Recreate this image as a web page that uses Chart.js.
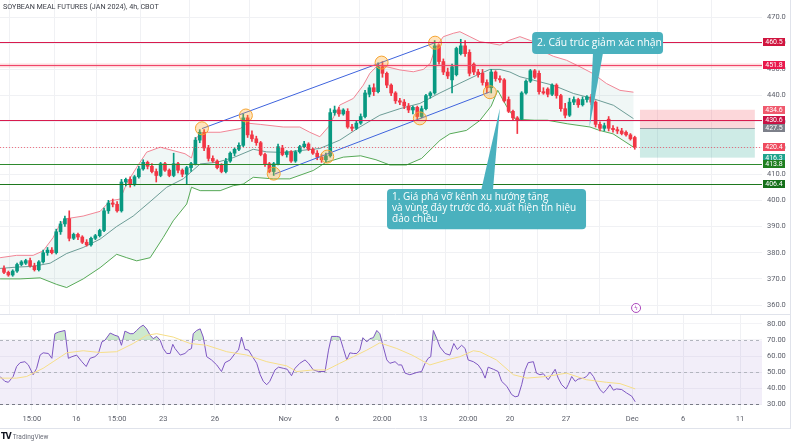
<!DOCTYPE html>
<html><head><meta charset="utf-8">
<script src="https://cdn.jsdelivr.net/npm/chart.js@4.4.1/dist/chart.umd.min.js"></script>
<style>
html,body{margin:0;padding:0;background:#fff;width:791px;height:448px;overflow:hidden}
#wrap{position:relative;width:791px;height:448px}
#c1{position:absolute;left:0;top:0}
#c2{position:absolute;left:0;top:315px}
#title{position:absolute;left:3px;top:2px;font:7.2px Roboto,sans-serif;color:#3a3d46;white-space:nowrap}
#logo{position:absolute;left:1px;top:432px;font:6.5px Roboto,sans-serif;color:#6a6d78;white-space:nowrap}
#logo b{font:bold 8px "DejaVu Sans",sans-serif;color:#131722;letter-spacing:-1px;margin-right:2px}
</style></head>
<body><div id="wrap">
<canvas id="c1" width="791" height="315"></canvas>
<canvas id="c2" width="791" height="133"></canvas>
<div id="title">SOYBEAN MEAL FUTURES (JAN 2024), 4h, CBOT</div>
<div id="logo"><b>TV</b>TradingView</div>
</div>
<script>
// ---------- DATA ----------
const open  = [374,372.5,371.5,373,375.5,376,377,375,373.5,376.5,380,381,380,388,391,393,385.5,387,386,384,383,385.5,386.5,388.5,396,399,398.5,396,407,408,406,409,412,414.5,413,411,409.5,414,411.5,409.5,414,411.5,410,412.5,414,423,426,420,416,415,413.5,411,415,418,419.5,421,431.5,425,423.5,422,417.5,414,411,414,420,417.5,418.5,415,418.5,420.5,421.5,419.5,418,416.5,415.5,417,433.5,434.5,433,434,428,427.5,429.5,432,440.5,443,441.5,451,448.5,444,441,438,437.5,436,434.5,435.5,432,435,440,441,459,453,449,446,448,456,459,456.5,452,449,448.5,445,443,449,446.5,446,438.5,434,431.5,431,441,445.5,449.5,448.5,441.5,442.5,440.5,444,440,435,432.5,437.5,438.5,436.5,438.5,439.5,437.5,429,427.5,431,427.5,427,426.5,426,425,424];
const high  = [375,373,373.5,376,377,377.5,378,376,377,381,382,382,389,392,394,396,387.5,387.5,386.5,385,386,387,389,397,400,400.5,399.5,408,408.5,409,409.5,413,415.5,415,414,412,414.5,414.5,412,418,414.5,412,413,414.5,424,427,427,421,417,415.5,414,416,418.5,420,422,433,432.5,426.5,424.5,422.5,418,414.5,414.5,421.5,421,419,419,419,421,422.5,422,420,419,417.5,418,435,436,435.5,435,435,429,430.5,433,442,444,444.5,452.5,453,449,444.5,441.5,439,438.5,437,436,436,436,440.5,441.5,461,459.5,454,450.5,452,458.5,461.5,461,457.5,452.5,450,450,446,450,449.5,447.5,446.5,439.5,434.5,432,441.5,446,450,450,449.5,443,443,444.5,444.5,440.5,437,439,439.5,439,439.5,440,440.5,438,430,429.5,432,428.5,428,427.5,426.5,425.5,424.5];
const low   = [372,371,371,372.5,375,375.5,374.5,373,373,376,379,379.5,379.5,387,390,384.5,385,385,383.5,382.5,382.5,385,386,388,395,397.5,395.5,395.5,405.5,405,405.5,408.5,411.5,412,410.5,407,409,411,409,409,410.5,409,406,411,413.5,422,419,415,414.5,412,410.5,410.5,414.5,417,419,420.5,424,422.5,421,417,413,410.5,409.5,413.5,417,416.5,414.5,414.5,418,420,419,417.5,415.5,414.5,414.5,416.5,432.5,432,432.5,427.5,426.5,427,429,431.5,439.5,440,441,447,443,440,437,436.5,435,433.5,433,431,431.5,434.5,439,440.5,452,448,446.5,441,447.5,455.5,455,447.5,448,447,444,441,441,445.5,445,437.5,433.5,430.5,425.5,430.5,440.5,445,446.5,440.5,440.5,439.5,440,439,434,431.5,432,436.5,435.5,436,437.5,436.5,428,426.5,426.5,426.5,426,425.5,425,424.5,423,419.5];
const close = [372.5,371.5,373,375.5,376.5,377,375,373.5,376.5,380,381,380,388,391,393,385.5,387,386,384,383,385.5,386.5,388.5,396,399,398.5,396,407,408,406,409,412,414.5,413,411,409.5,414,411.5,409.5,414,411.5,410,412.5,414,423,426,420,416,415,412.5,411,415,418,419.5,421,431.5,425,423.5,422,417.5,414,411,414,420.5,417.5,418.5,415,418.5,420.5,421.5,419.5,418,416.5,415.5,417,433.5,434.5,433,434.5,428,427.5,429.5,432,441,443,441.5,451,448.5,444,441,438,437.5,436,434.5,435.5,432,435,440,441,459,453,449,447.5,451,458,459,456,448.5,449,448,445,443,449,446.5,446,438,434,431.5,430.5,441,445.5,449.5,447,441.5,441,440.5,444,440,435,432.5,437.5,438.5,436.5,438.5,439.5,437.5,429,427.5,428.5,427.5,427,426.5,425.5,425,423.5,420.4];

// Bollinger bands (x in bar index)
const bbUpX = [-0.9,2.9,6.7,9.0,11.3,12.9,14.4,18.2,22.1,24.4,26.7,28.2,30.5,32.8,35.9,38.9,41.6,43.1,44.3,46.6,49.7,54.3,55.8,58.9,64.2,68.0,70.3,72.6,74.6,77.2,80.3,82.6,84.1,86.0,88.0,91.0,94.1,96.4,98.0,99.1,101.0,103.3,104.8,107.1,109.4,111.7,114.0,116.3,118.6,121.7,123.2,126.3,129.3,132.4,135.4,138.5,141.6,144.7];
const bbUp  = [378.1,379,379,380.7,385.8,391,393,394,395.8,399.8,400.5,406.4,412.6,418.4,420.3,419,417.8,416.2,424.1,426,426,427.4,429.5,429,428,428,426,424.3,428.1,436.4,438.9,444,448.5,451.7,451,449.8,449.1,450,452.3,458,462.5,463.8,464.4,462.5,460.6,460,459.3,461.2,462.5,460.6,457.4,455,453.5,451,448.4,444.6,442,441.3];
const bbMidX = [-0.9,2.9,6.7,10.6,14.4,18.2,22.1,25.9,29.7,33.6,37.4,41.2,45.1,48.9,52.7,57.3,60.4,64.2,68.0,72.6,77.2,81.8,86.4,91.0,95.6,100.2,104.8,108.7,111.7,114.0,116.3,118.6,121.7,126.3,130.9,135.5,140.1,144.7];
const bbMid  = [374,374.5,374.8,376,379.7,382,385.2,390,394,399.5,405,408.2,413.9,414.5,416.3,419.5,418.5,418.3,419,419.8,423,428,432.5,435,437,441,444.7,447.8,450,450,449,447.2,445.9,443.9,440.8,438.8,436.3,431.2];
const bbLoX = [-0.9,3.7,8.3,12.1,14.4,18.2,22.1,25.9,28.2,30.5,33.6,36.6,38.9,42.0,43.1,45.1,49.7,52.7,55.0,57.3,61.9,65.7,71.1,74.0,78.0,82.0,85.5,88.7,92.5,96.0,100.2,102.5,106.3,109.4,112.0,113.5,115.5,117.5,121.9,124.9,129.6,134.7,136.9,140.0,144.7];
const bbLo  = [370,370,370.4,367.9,366.7,370,374.3,379.4,378.1,376.9,378.1,385.8,392.2,398.6,405,403.7,403.7,405.6,406.2,408.8,408.2,408.2,411.4,414.5,416.5,417,415.5,413.5,413.5,416,422.9,425.4,426.7,430.5,436,442,436,431,430.6,430.6,429.2,428,426.7,425.4,420.3];

// RSI and its moving average
const rsiX = [-0.9,0.2,1.0,2.1,2.9,3.7,4.8,5.6,6.7,7.5,8.3,9.0,10.2,11.0,11.7,12.5,14.0,14.8,15.6,16.7,17.9,18.9,19.8,20.9,21.7,22.5,23.2,24.4,25.5,26.3,27.0,27.8,29.0,29.7,30.5,31.3,32.0,32.8,33.6,34.3,35.1,35.9,36.6,37.4,38.2,38.8,39.3,40.5,41.6,42.4,43.1,43.5,44.3,45.1,45.8,46.6,47.7,48.9,50.0,50.8,52.0,53.1,53.9,54.6,55.4,56.2,56.9,58.1,58.9,59.6,60.4,61.1,62.3,63.1,64.2,65.1,66.1,66.9,68.0,69.2,70.0,71.1,72.3,73.8,74.6,75.3,76.5,77.2,78.0,78.8,79.5,80.3,81.1,81.8,82.5,83.4,84.1,84.9,85.7,86.4,87.2,88.0,88.7,89.9,90.7,91.4,92.2,93.3,94.9,96.0,96.8,97.5,98.1,98.7,99.5,100.2,101.4,102.5,103.4,104.2,105.2,106.0,106.7,107.9,109.0,109.8,110.6,111.3,112.5,113.6,114.4,115.6,116.7,117.5,118.2,119.0,119.8,120.5,121.7,122.4,123.2,124.0,125.1,125.9,126.7,127.4,128.2,129.2,129.7,130.5,131.3,132.0,133.2,133.9,134.7,135.5,136.2,137.0,137.8,138.5,139.3,140.1,140.8,142.0,143.1,144.3,145.1];
const rsiV = [47.3,44.3,43.7,47.3,53.5,55.9,56.5,54.5,48.4,52.4,60.6,62,61.6,58.6,73.9,74.9,75.9,58.6,59.6,60.6,56.5,53.5,58.6,59.6,61.6,68.8,69.8,74.3,72.9,72.2,66.7,75.5,73.9,73.9,75.9,78,79.2,76.9,72.9,70.8,72.2,69.8,64.7,61.6,61.6,67.3,64.7,60.6,61.6,63.7,64.7,73.9,75.9,76.9,71.8,59.6,57.6,54.5,50.4,55.9,57.6,61.6,63.7,71.8,64.1,63.7,60.6,55.5,48.4,44.3,42.2,44.3,51.4,53.1,52.4,51.8,47.8,52.4,55.5,57.6,55.5,51.4,50.4,50.4,63.7,72.2,72.2,71.8,64.7,57.6,62,61.6,61.6,63.7,71.4,68.8,70.8,71.4,75.9,73.9,65.7,57.6,55.5,56.5,54.5,54.5,49.4,48.4,49.8,50.4,55.5,58.6,59.6,75.9,70.8,65.7,61.6,60.6,67.8,64.1,66.7,64.7,57.6,56.5,54.5,51.4,46.3,53.1,51.8,50.4,44.3,41.2,36.1,34.7,35.1,42.2,51.4,55.9,56.5,49.4,48.4,49,45.3,48.4,51.8,46.3,42.2,39.6,42.2,47.3,44.3,45.7,46.3,47.3,50,47.3,43.3,39.2,37.1,39.2,42.2,38.8,39.6,39.2,37.1,35.1,31.6];
const maX = [-0.9,2.9,5.2,9.0,11.3,14.4,18.2,22.1,25.9,29.7,32.8,35.1,38.9,42.8,46.6,51.2,55.8,60.4,65.0,67.3,71.1,74.2,77.2,80.3,83.4,86.4,90.3,93.8,97.9,101.8,104.8,107.9,109.4,113.2,117.1,120.2,124.7,129.3,133.9,138.5,141.6,145.1];
const maV = [46.3,46.3,47.3,52.4,56.5,62,63.3,62.2,62.7,67.8,72.9,73.9,71.8,67.8,66.7,62.7,60.6,56.5,53.9,50.4,51.4,51.4,55.5,59.6,63.7,68.2,64.7,60.6,54.5,57.6,59.6,63.3,62.7,57.6,48.4,46.3,47.3,49.4,45.3,43.7,42.9,39.6];

// drawings
const levels = [460.5,451.8,430.6,413.8,406.4];
const tagValues = [460.5,451.8,434.6,430.6,427.5,420.4,416.3,413.8,406.4];
const lastPrice = 420.4;
const chanUpX = [45.5,99.1], chanUpY = [427.4,460.2];
const chanLoX = [62.3,111.7], chanLoY = [410.1,441.4];
const circX = [45.5,55.6,62.0,74.3,86.8,95.6,99.1,111.7];
const circY = [427.5,432.4,410.2,416.7,452.6,431.3,460.2,441.3];
const posX = [146.2,172.6], posStop = 434.6, posEntry = 427.5, posTarget = 416.3;

// axes
const tickIdx = [6.4,16.6,26.0,36.6,48.5,64.6,76.6,86.9,96.3,106.7,116.3,129.2,144.4,156.1,169.2];
const tickLbl = ['15:00','16','15:00','23','26','Nov','6','20:00','13','20:00','20','27','Dec','6','11'];
const priceTicks = [360,370,380,390,400,410,420,430,440,450,460,470];
const rsiTicks = [30,40,50,60,70,80];
const note1 = ['1. Giá phá vỡ kênh xu hướng tăng','và vùng đáy trước đó, xuất hiện tín hiệu','đảo chiều'];
const note2 = '2. Cấu trúc giảm xác nhận';

// ---------- STYLE ----------
const xMin = -0.92, xMax = 174.25;
const UP = '#089981', DN = '#f23645';
const idx = close.map((_, i) => i);
const candleCol = idx.map(i => close[i] >= open[i] ? UP : DN);
const pts = (xs, ys) => xs.map((v, k) => ({x: v, y: ys[k]}));
const levelCol = ['#d81b4e','#f0456a','#d81b4e','#2e8a2e','#1e781e'];
const tagCol = ['#d0153f','#e8194c','#f0596d','#c81244','#7d808a','#ef4a5e','#1fa38c','#1f7f1f','#15701a'];
const CALL = '#4ab1be';
const FONT = 'Roboto, "Open Sans", sans-serif';
Chart.defaults.font.family = FONT;

function rr(ctx, x, y, w, h, r) {
  ctx.beginPath();
  ctx.moveTo(x + r, y); ctx.lineTo(x + w - r, y); ctx.quadraticCurveTo(x + w, y, x + w, y + r);
  ctx.lineTo(x + w, y + h - r); ctx.quadraticCurveTo(x + w, y + h, x + w - r, y + h);
  ctx.lineTo(x + r, y + h); ctx.quadraticCurveTo(x, y + h, x, y + h - r);
  ctx.lineTo(x, y + r); ctx.quadraticCurveTo(x, y, x + r, y); ctx.closePath();
}

const ov1 = {
  id: 'ov1',
  beforeDatasetsDraw(ch) {
    const {ctx, chartArea: a, scales: {x, y}} = ch;
    const X = v => x.getPixelForValue(v), Y = v => y.getPixelForValue(v);
    ctx.save();
    ctx.beginPath(); ctx.rect(a.left, a.top, a.right - a.left, a.bottom - a.top); ctx.clip();
    ctx.beginPath();
    bbUpX.forEach((v, k) => k ? ctx.lineTo(X(v), Y(bbUp[k])) : ctx.moveTo(X(v), Y(bbUp[k])));
    for (let k = bbLoX.length - 1; k >= 0; k--) ctx.lineTo(X(bbLoX[k]), Y(bbLo[k]));
    ctx.closePath(); ctx.fillStyle = 'rgba(40,140,125,0.07)'; ctx.fill();
    const p0 = X(posX[0]), p1 = X(posX[1]);
    ctx.fillStyle = 'rgba(242,54,69,0.2)';
    ctx.fillRect(p0, Y(posStop), p1 - p0, Y(posEntry) - Y(posStop));
    ctx.fillStyle = 'rgba(8,153,129,0.2)';
    ctx.fillRect(p0, Y(posEntry), p1 - p0, Y(posTarget) - Y(posEntry));
    ctx.strokeStyle = '#9598a1'; ctx.lineWidth = 1;
    ctx.beginPath(); ctx.moveTo(p0, Math.round(Y(posEntry)) + 0.5); ctx.lineTo(p1, Math.round(Y(posEntry)) + 0.5); ctx.stroke();
    ctx.restore();
  },
  afterDatasetsDraw(ch) {
    const {ctx, chartArea: a, scales: {y}} = ch;
    const Y = v => Math.round(y.getPixelForValue(v)) + 0.5;
    ctx.save();
    ctx.setLineDash([1, 2]); ctx.strokeStyle = 'rgba(239,74,94,0.75)'; ctx.lineWidth = 1;
    ctx.beginPath(); ctx.moveTo(a.left, Y(lastPrice)); ctx.lineTo(a.right, Y(lastPrice)); ctx.stroke();
    ctx.setLineDash([]);
    ctx.strokeStyle = 'rgba(242,54,69,0.18)'; ctx.lineWidth = 4;
    ctx.beginPath(); ctx.moveTo(a.left, Y(levels[1])); ctx.lineTo(a.right, Y(levels[1])); ctx.stroke();
    levels.forEach((v, k) => {
      ctx.strokeStyle = levelCol[k]; ctx.lineWidth = 1;
      ctx.beginPath(); ctx.moveTo(a.left, Y(v)); ctx.lineTo(a.right, Y(v)); ctx.stroke();
    });
    ctx.restore();
  },
  afterDraw(ch) {
    const {ctx, chartArea: a, scales: {x, y}} = ch;
    const X = v => x.getPixelForValue(v), Y = v => y.getPixelForValue(v);
    ctx.save();
    const b1 = {x0: 88.05, x1: 133.8, t: 404.3, b: 389.0};
    ctx.fillStyle = CALL;
    ctx.beginPath(); ctx.moveTo(X(109.7), Y(b1.t) + 1); ctx.lineTo(X(114.0), Y(435.2)); ctx.lineTo(X(112.4), Y(b1.t) + 1); ctx.closePath(); ctx.fill();
    rr(ctx, X(b1.x0), Y(b1.t), X(b1.x1) - X(b1.x0), Y(b1.b) - Y(b1.t), 4); ctx.fill();
    ctx.fillStyle = '#fff'; ctx.font = '10px "Open Sans", sans-serif'; ctx.textBaseline = 'middle'; ctx.textAlign = 'left';
    note1.forEach((s, k) => ctx.fillText(s, X(b1.x0) + 5, Y(b1.t) + 8 + k * 11));
    const b2 = {x0: 121.4, x1: 151.5, t: 464.3, b: 455.9};
    ctx.fillStyle = CALL;
    ctx.beginPath(); ctx.moveTo(X(135.4), Y(b2.b) - 1); ctx.lineTo(X(134.6), Y(428.0)); ctx.lineTo(X(137.7), Y(b2.b) - 1); ctx.closePath(); ctx.fill();
    rr(ctx, X(b2.x0), Y(b2.t), X(b2.x1) - X(b2.x0), Y(b2.b) - Y(b2.t), 4); ctx.fill();
    ctx.fillStyle = '#fff'; ctx.font = '10.4px "Open Sans", sans-serif';
    ctx.fillText(note2, X(b2.x0) + 5, (Y(b2.t) + Y(b2.b)) / 2 + 0.5);
    ctx.strokeStyle = '#ab47bc'; ctx.lineWidth = 1; ctx.fillStyle = '#fff';
    ctx.beginPath(); ctx.arc(X(145.3), Y(358.9), 4.5, 0, Math.PI * 2); ctx.fill(); ctx.stroke();
    ctx.fillStyle = '#ab47bc'; ctx.font = '6px "DejaVu Sans"'; ctx.textAlign = 'center';
    ctx.fillText('ϟ', X(145.3), Y(358.9) + 0.5);
    ctx.font = '7px ' + FONT; ctx.textAlign = 'center';
    tagValues.forEach((v, k) => {
      const yy = Math.round(Y(v));
      ctx.fillStyle = tagCol[k]; ctx.fillRect(a.right + 1, yy - 4, 22, 8);
      ctx.fillStyle = '#fff'; ctx.fillText(v.toFixed(1), a.right + 12, yy + 0.5);
    });
    ctx.strokeStyle = '#e0e3eb'; ctx.lineWidth = 1;
    ctx.beginPath(); ctx.moveTo(0, 314.5); ctx.lineTo(791, 314.5); ctx.stroke();
    ctx.beginPath(); ctx.moveTo(790.5, 0); ctx.lineTo(790.5, 315); ctx.stroke();
    ctx.restore();
  }
};

const ov2 = {
  id: 'ov2',
  beforeDatasetsDraw(ch) {
    const {ctx, chartArea: a, scales: {y}} = ch;
    const Y = v => Math.round(y.getPixelForValue(v)) + 0.5;
    ctx.save();
    ctx.fillStyle = 'rgba(126,87,194,0.1)';
    ctx.fillRect(a.left, Y(70), a.right - a.left, Y(30) - Y(70));
    ctx.setLineDash([3, 3]); ctx.lineWidth = 1;
    [[70, '#b2b5be'], [50, '#b2b5be'], [30, '#787b86']].forEach(([v, c]) => {
      ctx.strokeStyle = c; ctx.beginPath(); ctx.moveTo(a.left, Y(v)); ctx.lineTo(a.right, Y(v)); ctx.stroke();
    });
    ctx.restore();
  },
  afterDraw(ch) {
    const {ctx} = ch;
    ctx.save(); ctx.strokeStyle = '#e0e3eb'; ctx.lineWidth = 1;
    ctx.beginPath(); ctx.moveTo(0, 113.5); ctx.lineTo(791, 113.5); ctx.stroke();
    ctx.beginPath(); ctx.moveTo(790.5, 0); ctx.lineTo(790.5, 113.5); ctx.stroke();
    ctx.restore();
  }
};

const baseOpts = {
  responsive: false, animation: false, events: [],
  plugins: {legend: {display: false}, tooltip: {enabled: false}}
};
const xAxis = (showTicks) => ({
  type: 'linear', min: xMin, max: xMax, offset: false,
  afterBuildTicks: s => { s.ticks = tickIdx.map(v => ({value: v})); },
  ticks: {display: showTicks, autoSkip: false, maxRotation: 0, padding: 5, color: '#5d606b', font: {size: 7.5},
          callback: (v, i) => tickLbl[i]},
  grid: {color: '#f0f1f4', drawTicks: false}, border: {display: false},
  afterFit: s => { s.height = showTicks ? 18 : 0; s.paddingLeft = 0; s.paddingRight = 0; }
});
const yFit = s => { s.width = 29; s.paddingTop = 0; s.paddingBottom = 0; };

new Chart(document.getElementById('c1'), {
  type: 'bar',
  data: {datasets: [
    {type: 'line', data: pts(bbUpX, bbUp), borderColor: '#f0788a', borderWidth: 0.9, pointRadius: 0, tension: 0, order: 10},
    {type: 'line', data: pts(bbMidX, bbMid), borderColor: '#5e928b', borderWidth: 0.9, pointRadius: 0, tension: 0, order: 10},
    {type: 'line', data: pts(bbLoX, bbLo), borderColor: '#45a045', borderWidth: 0.9, pointRadius: 0, tension: 0, order: 10},
    {type: 'bar', data: idx.map(i => ({x: i, y: [low[i], high[i]]})), backgroundColor: candleCol, barThickness: 1, grouped: false, order: 5},
    {type: 'bar', data: idx.map(i => ({x: i, y: [open[i], close[i]]})), backgroundColor: candleCol, barThickness: 3, minBarLength: 1, grouped: false, order: 4},
    {type: 'line', data: pts(chanUpX, chanUpY), borderColor: '#3e63dd', borderWidth: 1, pointRadius: 0, order: 3},
    {type: 'line', data: pts(chanLoX, chanLoY), borderColor: '#3e63dd', borderWidth: 1, pointRadius: 0, order: 3},
    {type: 'scatter', data: pts(circX, circY), pointRadius: 6.5, pointBackgroundColor: 'rgba(255,167,38,0.3)', pointBorderColor: '#f5a431', pointBorderWidth: 1, order: 1}
  ]},
  options: Object.assign({}, baseOpts, {
    layout: {autoPadding: false, padding: {left: 0, right: 0, top: 0, bottom: 1}},
    scales: {
      x: xAxis(false),
      y: {position: 'right', min: 356.6, max: 476.5,
          afterBuildTicks: s => { s.ticks = priceTicks.map(v => ({value: v})); },
          ticks: {callback: v => v.toFixed(1), color: '#5d606b', font: {size: 7.5}, padding: 5},
          grid: {color: '#f0f1f4', drawTicks: false}, border: {display: false},
          afterFit: yFit}
    }
  }),
  plugins: [ov1]
});

new Chart(document.getElementById('c2'), {
  type: 'line',
  data: {datasets: [
    {data: pts(rsiX, rsiV), borderColor: '#7e57c2', borderWidth: 1, pointRadius: 0, tension: 0,
     fill: {target: {value: 70}, above: 'rgba(76,175,80,0.28)', below: 'rgba(0,0,0,0)'}, order: 2},
    {data: pts(maX, maV), borderColor: '#f6de88', borderWidth: 1, pointRadius: 0, tension: 0, order: 1}
  ]},
  options: Object.assign({}, baseOpts, {
    layout: {autoPadding: false, padding: {left: 0, right: 0, top: 0, bottom: 20}},
    scales: {
      x: xAxis(true),
      y: {position: 'right', min: 26.5, max: 85.5,
          afterBuildTicks: s => { s.ticks = rsiTicks.map(v => ({value: v})); },
          ticks: {callback: v => v.toFixed(2), color: '#5d606b', font: {size: 7.5}, padding: 5},
          grid: {color: '#f3f3f6', drawTicks: false}, border: {display: false},
          afterFit: yFit}
    }
  }),
  plugins: [ov2]
});
</script>
</body></html>
